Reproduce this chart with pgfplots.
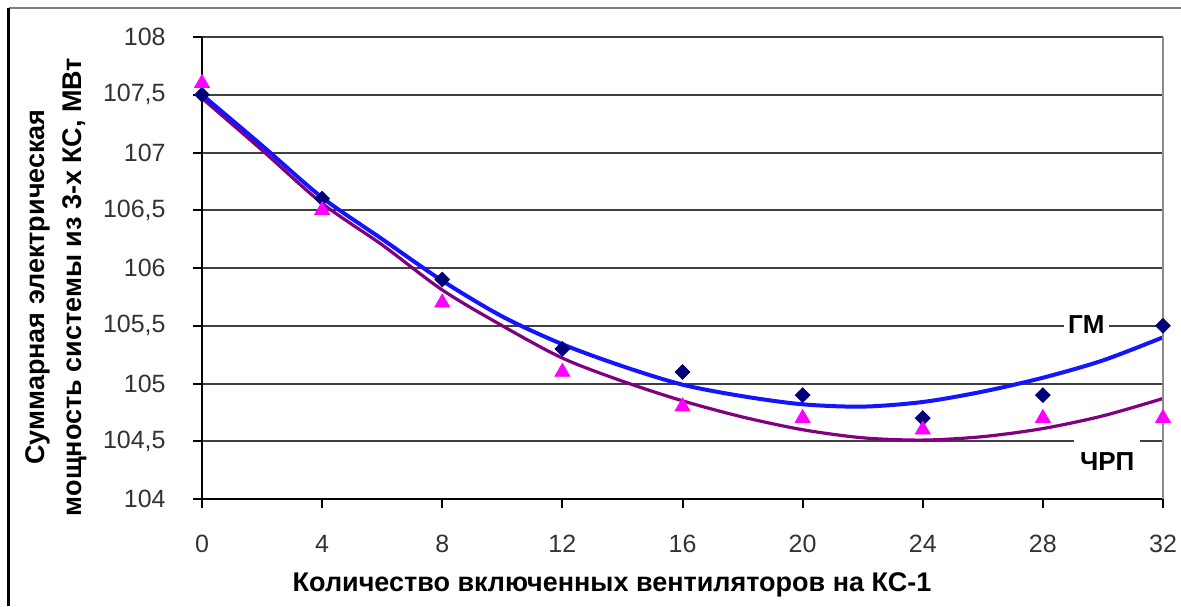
\documentclass[border=0pt]{standalone}
\usepackage{fontspec}
\setmainfont{Liberation Sans}
\usepackage{pgfplots}
\pgfplotsset{compat=1.18}

\definecolor{gmline}{RGB}{20,20,255}
\definecolor{gmmark}{RGB}{0,0,120}
\definecolor{chline}{RGB}{128,0,128}
\definecolor{chmark}{RGB}{255,0,255}

\begin{document}
\begin{tikzpicture}
  \begin{axis}[
    scale only axis,
    width=480.5pt, height=231pt,
    xmin=0, xmax=32, ymin=104, ymax=108,
    xtick={0,4,...,32},
    ytick={104,104.5,...,108},
    axis lines=left,
    axis line style={-, black, line width=1.2pt},
    tick align=outside,
    major tick length=4.5pt,
    tick style={black, line width=1pt},
    ymajorgrids,
    grid style={black!75, line width=1pt},
    /pgf/number format/assume math mode=true,
    /pgf/number format/use comma,
    /pgf/number format/1000 sep={},
    ticklabel style={font=\fontsize{12.5}{14}\selectfont, text=black!80},
    yticklabel style={anchor=east, inner sep=0pt, xshift=-13.5pt},
    xticklabel style={anchor=north, inner sep=0pt, yshift=-13.5pt},
    xlabel={Количество включенных вентиляторов на КС-1},
    xlabel style={at={(axis description cs:0.4266,-0.186)}, anchor=center,
      font=\bfseries\fontsize{13.5}{15}\selectfont},
    ylabel={Суммарная электрическая\\мощность системы из 3-х КС, МВт},
    ylabel style={at={(axis description cs:-0.152,0.459)}, anchor=center,
      align=center, font=\bfseries\fontsize{13.5}{18.5}\selectfont},
    clip=false,
  ]
    % measured points
    \addplot [only marks, mark=square*, mark size=2.6pt,
      mark options={rotate=45, fill=gmmark, draw=gmmark}] coordinates {
      (0,107.5) (4,106.6) (8,105.9) (12,105.3) (16,105.1)
      (20,104.9) (24,104.7) (28,104.9) (32,105.5)
    };
    \addplot [only marks, mark=triangle*, mark size=4.3pt,
      mark options={fill=chmark, draw=chmark}] coordinates {
      (0,107.6) (4,106.5) (8,105.7) (12,105.1) (16,104.8)
      (20,104.7) (24,104.6) (28,104.7) (32,104.7)
    };
    % trend lines
    \addplot [chline, line width=1.6pt, smooth, no marks] coordinates {
      (0,107.47) (2,107.02) (4,106.56) (6,106.20) (8,105.81)
      (10,105.50) (12,105.22) (14,105.02) (16,104.85) (18,104.71)
      (20,104.60) (22,104.53) (24,104.51) (26,104.54) (28,104.61)
      (30,104.72) (32,104.87)
    };
    \addplot [gmline, line width=2pt, smooth, no marks] coordinates {
      (0,107.50) (2,107.06) (4,106.61) (6,106.25) (8,105.89)
      (10,105.58) (12,105.34) (14,105.15) (16,104.99) (18,104.89)
      (20,104.82) (22,104.80) (24,104.84) (26,104.93) (28,105.05)
      (30,105.20) (32,105.40)
    };
    \draw [black!45, line width=1pt] (axis cs:32,104) -- (axis cs:32,108);
    \node [fill=white, inner xsep=2pt, inner ysep=3pt,
      font=\bfseries\fontsize{13}{15}\selectfont] at (axis cs:29.45,105.51) {ГМ};
    \node [fill=white, inner xsep=3pt, inner ysep=7pt,
      font=\bfseries\fontsize{13}{15}\selectfont] at (axis cs:30.14,104.32) {ЧРП};
    \coordinate (sw) at (rel axis cs:0,0);
    \coordinate (ne) at (rel axis cs:1,1);
  \end{axis}
  \draw [black!50, line width=1pt] ([xshift=-96.5pt,yshift=14.5pt]sw |- ne) -- ([xshift=9pt,yshift=14.5pt]ne);
  \draw [black, line width=1.5pt] ([xshift=-96.5pt,yshift=14.5pt]sw |- ne) -- ([xshift=-96.5pt,yshift=-53.5pt]sw);
  \pgfresetboundingbox
  \path [use as bounding box] ([xshift=-101pt,yshift=-53.5pt]sw) rectangle ([xshift=9pt,yshift=18.5pt]ne);
\end{tikzpicture}
\end{document}
